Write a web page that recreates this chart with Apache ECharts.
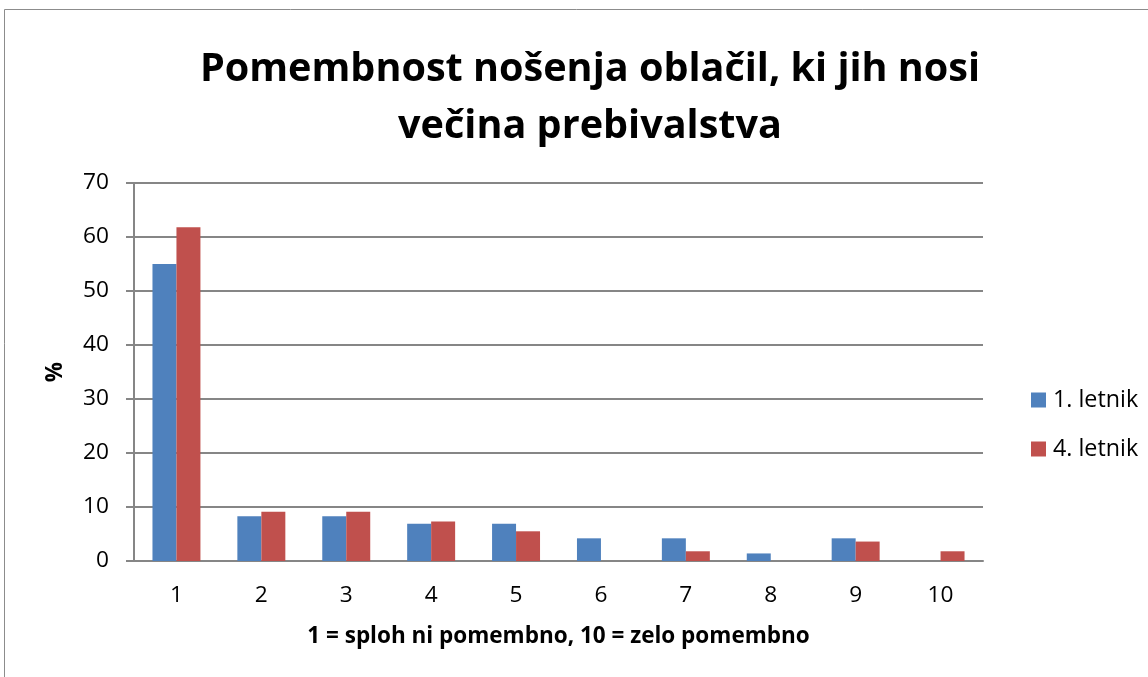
<!DOCTYPE html>
<html>
<head>
<meta charset="utf-8">
<script src="https://cdn.jsdelivr.net/npm/echarts@6/dist/echarts.min.js"></script>
<style>
  html, body { margin: 0; padding: 0; background: #fff; }
  #main { width: 1148px; height: 677px; }
</style>
</head>
<body>
<div id="main"></div>
<script>
// data
var categories = ['1', '2', '3', '4', '5', '6', '7', '8', '9', '10'];
var letnik1 = [55.0, 8.3, 8.3, 6.9, 6.9, 4.2, 4.2, 1.4, 4.2, 0];
var letnik4 = [61.8, 9.1, 9.1, 7.3, 5.5, 0, 1.8, 0, 3.6, 1.8];
var yTicks = [0, 10, 20, 30, 40, 50, 60, 70];

var titleLines = ['Pomembnost nošenja oblačil, ki jih nosi', 'večina prebivalstva'];
var xName = '1 = sploh ni pomembno, 10 = zelo pomembno';

var font = '"Open Sans", "Liberation Sans", sans-serif';

// the original uses Calibri, which is narrower; size Open Sans so the widths match
function fitSize(text, weight, width) {
  var ctx = document.createElement('canvas').getContext('2d');
  ctx.font = weight + ' 100px ' + font;
  return Math.round(1000 * width / ctx.measureText(text).width) / 10;
}
var titleSize = fitSize(titleLines[0], 'bold', 780);
var nameSize = fitSize(xName, 'bold', 503);
var labelSize = fitSize('70', 'normal', 26);
var legendSize = fitSize('1. letnik', 'normal', 85);

var myChart = echarts.init(document.getElementById('main'));

var option = {
  backgroundColor: '#fff',
  animation: false,
  graphic: [{
    type: 'rect',
    shape: { x: 4.5, y: 9.5, width: 1160, height: 700 },
    style: { fill: 'none', stroke: '#8c8c8c', lineWidth: 1 }
  }],
  title: {
    text: titleLines.join('\n'),
    left: 585,
    textAlign: 'center',
    top: 36,
    textStyle: {
      fontFamily: font,
      fontWeight: 'bold',
      fontSize: titleSize,
      lineHeight: 57,
      color: '#000'
    }
  },
  legend: {
    orient: 'vertical',
    left: 1026,
    top: 383,
    itemWidth: 15,
    itemHeight: 15,
    itemGap: 25,
    icon: 'rect',
    textStyle: { fontFamily: font, fontSize: legendSize, lineHeight: 24, color: '#000', padding: [0, 0, 0, 2] },
    data: ['1. letnik', '4. letnik']
  },
  grid: {
    left: 134,
    right: 1148 - 983,
    top: 183,
    bottom: 677 - 561,
    containLabel: false
  },
  xAxis: {
    type: 'category',
    data: categories,
    name: xName,
    nameLocation: 'middle',
    nameGap: 64,
    nameTextStyle: { fontFamily: font, fontWeight: 'bold', fontSize: nameSize, color: '#000' },
    axisLine: { lineStyle: { color: '#868686', width: 2 } },
    axisTick: { show: false },
    axisLabel: { fontFamily: font, fontSize: labelSize, color: '#000', margin: 23 }
  },
  yAxis: {
    type: 'value',
    min: 0,
    max: yTicks[yTicks.length - 1],
    interval: 10,
    name: '%',
    nameLocation: 'middle',
    nameGap: 67,
    nameRotate: 90,
    nameTextStyle: { fontFamily: font, fontWeight: 'bold', fontSize: nameSize, color: '#000' },
    axisLine: { show: true, lineStyle: { color: '#868686', width: 2 } },
    axisTick: { show: true, length: 8, lineStyle: { color: '#868686', width: 2 } },
    axisLabel: { fontFamily: font, fontSize: labelSize, color: '#000', margin: 25 },
    splitLine: { lineStyle: { color: '#868686', width: 2 } }
  },
  series: [
    {
      name: '1. letnik',
      type: 'bar',
      data: letnik1,
      barGap: '0%',
      barCategoryGap: '43.5%',
      itemStyle: { color: '#4f81bd' }
    },
    {
      name: '4. letnik',
      type: 'bar',
      data: letnik4,
      itemStyle: { color: '#c0504d' }
    }
  ]
};

myChart.setOption(option);
</script>
</body>
</html>
